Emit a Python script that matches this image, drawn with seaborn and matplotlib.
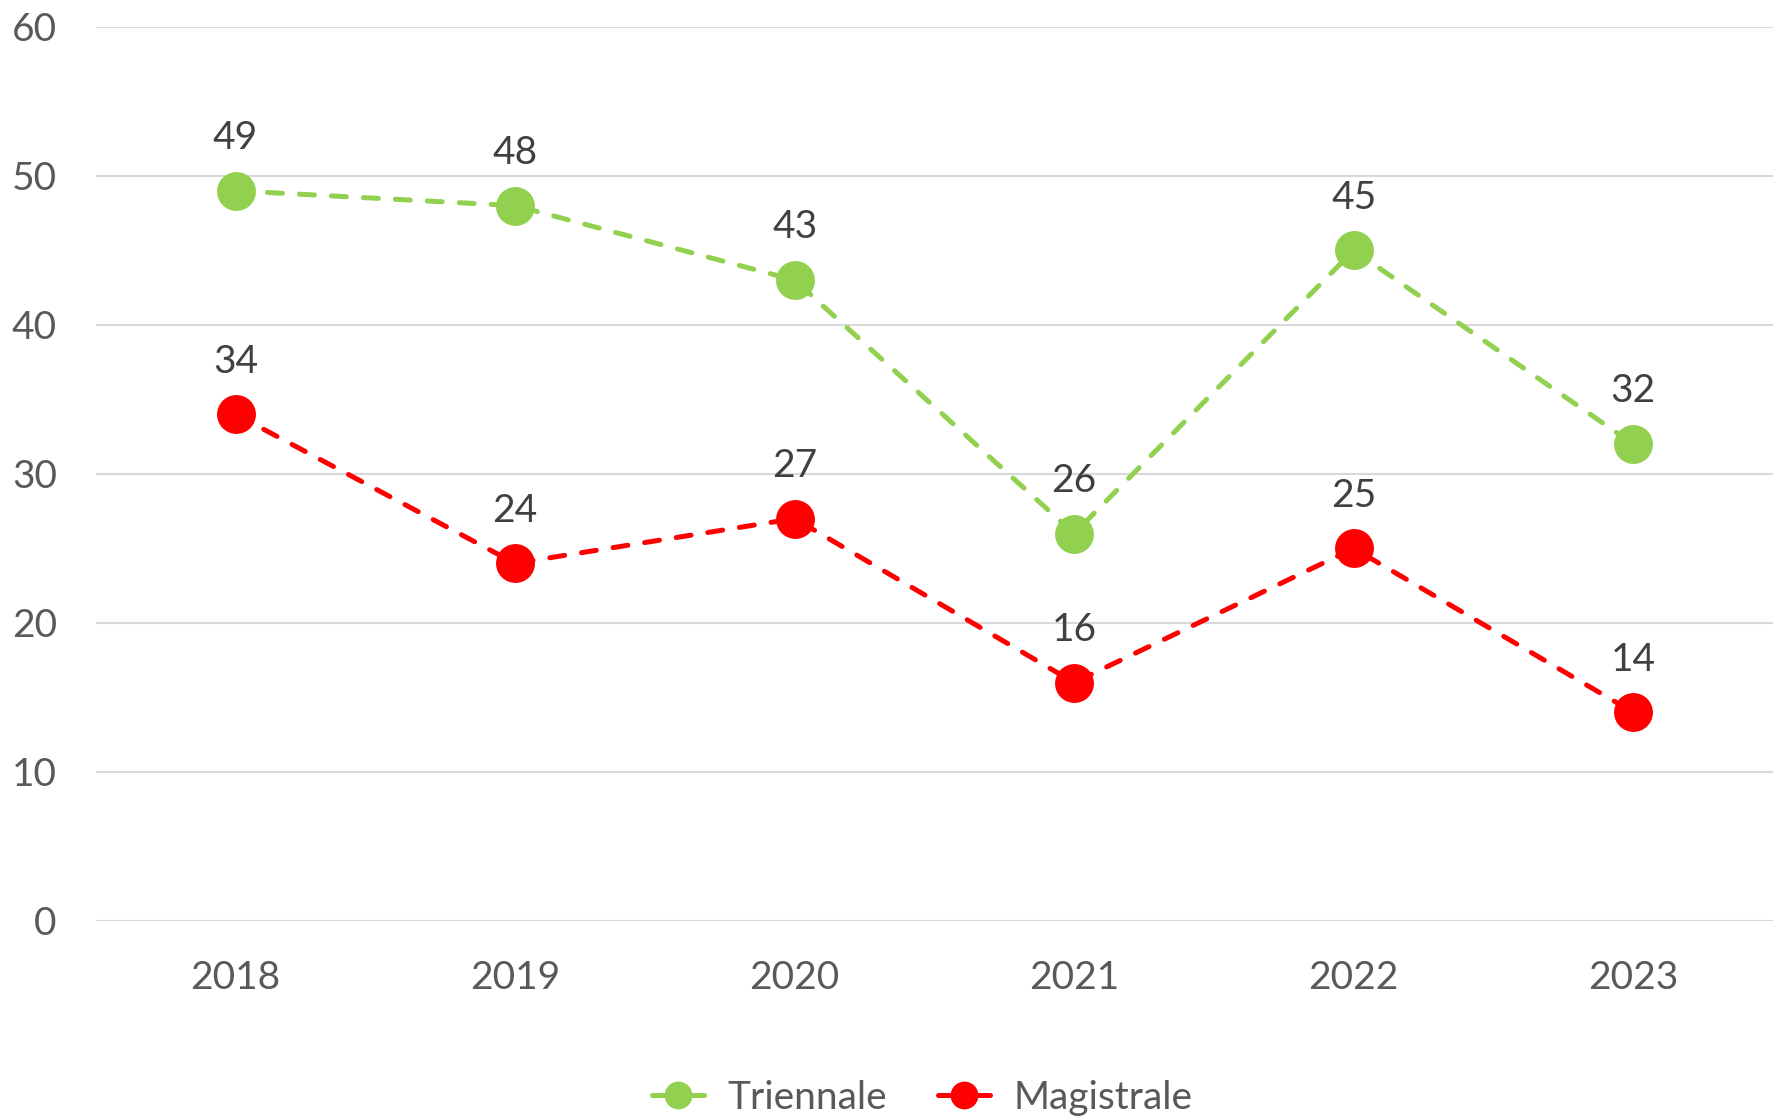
import pandas as pd
import matplotlib.pyplot as plt
import seaborn as sns
from matplotlib.lines import Line2D

years = ["2018", "2019", "2020", "2021", "2022", "2023"]
triennale = [49, 48, 43, 26, 45, 32]
magistrale = [34, 24, 27, 16, 25, 14]
series_names = ["Triennale", "Magistrale"]
colors = {"Triennale": "#92D050", "Magistrale": "#FF0000"}

df = pd.DataFrame({
    "pos": list(range(len(years))) * 2,
    "value": triennale + magistrale,
    "serie": [series_names[0]] * len(years) + [series_names[1]] * len(years),
})

sns.set_style("white")
plt.rcParams["font.family"] = ["Lato", "DejaVu Sans"]

fig = plt.figure(figsize=(17.73, 11.19), dpi=100)
ax = fig.add_axes([0.054, 0.177, 0.946, 0.799])

for name in series_names:
    sub = df[df["serie"] == name]
    sns.lineplot(data=sub, x="pos", y="value", ax=ax, color=colors[name],
                 linestyle=(0, (3.0, 3.4)), linewidth=3.6, marker="o",
                 markersize=28, markeredgewidth=0, dash_capstyle="round",
                 label=name, zorder=3)
    for x, y in zip(sub["pos"], sub["value"]):
        ax.annotate(str(y), (x, y), xytext=(0, 38), textcoords="offset points",
                    ha="center", va="center", fontsize=28, color="#404040")

ax.set_xlim(-0.5, len(years) - 0.5)
ax.set_ylim(0, 60)
ax.set_yticks(range(0, 61, 10))
ax.set_xticks(range(len(years)))
ax.set_xticklabels(years)
ax.set_xlabel("")
ax.set_ylabel("")
ax.grid(axis="y", color="#D9D9D9", linewidth=1.5)
ax.set_axisbelow(True)
for s in ax.spines.values():
    s.set_visible(False)
ax.tick_params(axis="both", length=0, labelsize=28, colors="#595959")
ax.tick_params(axis="x", pad=28)
ax.tick_params(axis="y", pad=28)

ax.get_legend().remove()
handles = [Line2D([], [], color=colors[n], linewidth=3.6, solid_capstyle="round",
                  marker="o", markersize=20, markeredgewidth=0)
           for n in series_names]
fig.legend(handles, series_names, loc="center", bbox_to_anchor=(0.52, 0.019),
           ncol=2, frameon=False, fontsize=28, handlelength=1.35,
           columnspacing=1.3, handletextpad=0.6, labelcolor="#595959")

plt.savefig("out.png", dpi=100)
plt.close()
